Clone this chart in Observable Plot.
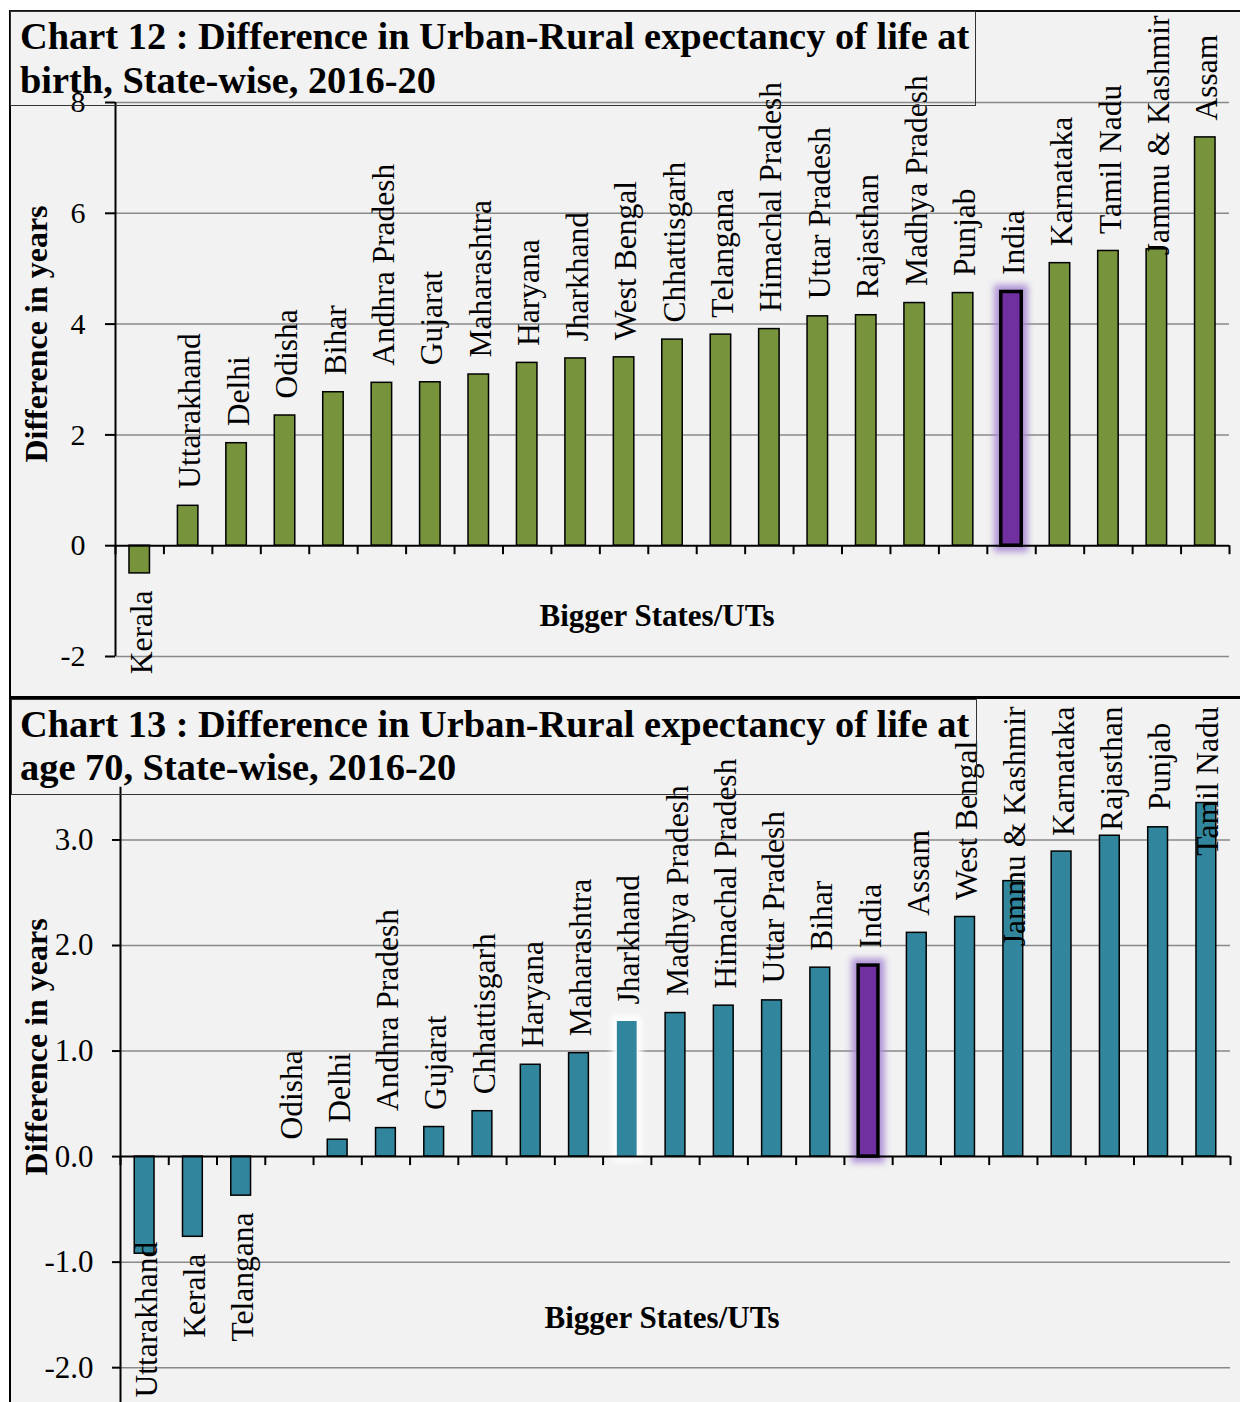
<!DOCTYPE html>
<html>
<head>
<meta charset="utf-8">
<script src="https://cdn.jsdelivr.net/npm/d3@7"></script>
<script src="https://cdn.jsdelivr.net/npm/@observablehq/plot@0.6"></script>
<style>
html,body{margin:0;padding:0;width:1240px;height:1402px;overflow:hidden;background:#fff;}
body{position:relative;font-family:"Liberation Serif","Times New Roman",serif;}
#bg{position:absolute;left:9px;top:10px;width:1231px;height:1392px;background:#f2f2f2;border-left:2px solid #000;border-top:2px solid #111;box-sizing:border-box;}
.chart{position:absolute;left:0;}
#c12{top:0;}
#c13{top:697px;}
.tbox{position:absolute;box-sizing:border-box;border:1px solid #333;font-weight:bold;font-size:38.4px;color:#000;white-space:nowrap;}
#t12{left:10px;top:11px;width:966px;height:95px;padding:3.2px 0 0 9px;line-height:43.5px;}
#t13{left:11px;top:699px;width:966px;height:96px;padding:2.9px 0 0 8px;line-height:43px;}
#divider{position:absolute;left:9px;top:696px;width:1231px;height:3px;background:#000;}
</style>
</head>
<body>
<div id="bg"></div>
<div id="c12" class="chart"></div>
<div id="c13" class="chart"></div>
<div id="t12" class="tbox">Chart 12 : Difference in Urban-Rural expectancy of life at<br>birth, State-wise, 2016-20</div>
<div id="t13" class="tbox">Chart 13 : Difference in Urban-Rural expectancy of life at<br>age 70, State-wise, 2016-20</div>
<div id="divider"></div>
<script>
const SERIF = '"Liberation Serif", "Times New Roman", serif';
const GREEN = "#77933c", TEAL = "#31859c", PURPLE = "#7030a0", GRID = "#898989";

// Chart 12: at birth
const states12 = ["Kerala","Uttarakhand","Delhi","Odisha","Bihar","Andhra Pradesh","Gujarat","Maharashtra","Haryana","Jharkhand","West Bengal","Chhattisgarh","Telangana","Himachal Pradesh","Uttar Pradesh","Rajasthan","Madhya Pradesh","Punjab","India","Karnataka","Tamil Nadu","Jammu & Kashmir","Assam"];
const values12 = [-0.50,0.72,1.85,2.35,2.77,2.94,2.95,3.09,3.30,3.38,3.40,3.72,3.81,3.91,4.14,4.16,4.38,4.56,4.58,5.10,5.32,5.35,7.37];
const ticks12 = [-2,0,2,4,6,8];

// Chart 13: at age 70
const states13 = ["Uttarakhand","Kerala","Telangana","Odisha","Delhi","Andhra Pradesh","Gujarat","Chhattisgarh","Haryana","Maharashtra","Jharkhand","Madhya Pradesh","Himachal Pradesh","Uttar Pradesh","Bihar","India","Assam","West Bengal","Jammu & Kashmir","Karnataka","Rajasthan","Punjab","Tamil Nadu"];
const values13 = [-0.92,-0.76,-0.37,0.00,0.16,0.27,0.28,0.43,0.87,0.98,1.28,1.36,1.43,1.48,1.79,1.81,2.12,2.27,2.61,2.89,3.04,3.12,3.35];
const ticks13 = [-2,-1,0,1,2,3];

const yTitleText = "Difference in years";
const xTitleText = "Bigger States/UTs";

const canvas = document.createElement("canvas");
const ctx = canvas.getContext("2d");
function textWidth(s, size) { ctx.font = `${size}px "Liberation Serif"`; return ctx.measureText(s).width; }

function makeChart(cfg) {
  const {states, values, ticks, tickFormat, domain, height, marginTop, marginBottom, marginLeft, marginRight,
         color, highlight, muted, tickSize, tickPadding, tickFont, topLimit, bottomLimit, pad, yT, xT} = cfg;
  const width = 1240;
  const data = states.map((state, i) => ({state, value: values[i]}));
  const n = data.length;
  const step = (width - marginLeft - marginRight) / n;
  const plotH = height - marginTop - marginBottom;
  const yPix = v => marginTop + (domain[1] - v) / (domain[1] - domain[0]) * plotH;
  const frameBottom = height - marginBottom;
  const fs = 31.5, gap = 17;
  const upFree = [], upClamp = [], downFree = [], downClamp = [];
  for (const d of data) {
    const w = textWidth(d.state, fs);
    const p = yPix(d.value);
    if (d.value >= 0) (p - gap - w < topLimit ? upClamp : upFree).push(d);
    else (p + gap + w > bottomLimit ? downClamp : downFree).push(d);
  }
  const lab = {x: "state", text: "state", rotate: -90, fontSize: fs, fontFamily: SERIF, fill: "#000", lineAnchor: "middle", dx: 2};
  const tickOpts = {x: "state", y1: 0, y2: 0, insetBottom: -9, stroke: "#000", strokeWidth: 2};
  const regular = data.filter(d => d.state !== highlight && d.state !== muted);
  const marks = [
    Plot.ruleY(ticks.filter(t => t !== 0), {stroke: GRID, strokeWidth: 1.5}),
    Plot.barY(regular, {x: "state", y: "value", fill: color, stroke: "#000", strokeWidth: 1.5}),
    Plot.barY(data.filter(d => d.state === highlight), {x: "state", y: "value", fill: PURPLE, stroke: "#000", strokeWidth: 3.5})
  ];
  if (muted) marks.push(Plot.barY(data.filter(d => d.state === muted), {x: "state", y: "value", fill: color}));
  marks.push(
    Plot.ruleY([0], {stroke: "#000", strokeWidth: 2}),
    Plot.ruleX(data, {...tickOpts, dx: -step / 2}),
    Plot.ruleX(data.slice(-1), {...tickOpts, dx: step / 2}),
    Plot.ruleX(data.slice(0, 1), {x: "state", dx: -step / 2, stroke: "#000", strokeWidth: 2}),
    Plot.text(upFree, {...lab, y: "value", textAnchor: "start", dy: -gap}),
    Plot.text(upClamp, {...lab, frameAnchor: "top", textAnchor: "end", dy: topLimit - marginTop}),
    Plot.text(downFree, {...lab, y: "value", textAnchor: "end", dy: gap}),
    Plot.text(downClamp, {...lab, frameAnchor: "bottom", textAnchor: "start", dy: bottomLimit - frameBottom}),
    Plot.text([yTitleText], {frameAnchor: "left", rotate: -90, lineAnchor: "bottom", textAnchor: "middle", fontWeight: "bold", fontSize: 32, fontFamily: SERIF, fill: "#000", dx: yT.dx, dy: yT.dy}),
    Plot.text([xTitleText], {frameAnchor: "bottom", lineAnchor: "bottom", textAnchor: "middle", fontWeight: "bold", fontSize: 31, fontFamily: SERIF, fill: "#000", dx: xT.dx, dy: xT.dy})
  );
  const svg = Plot.plot({
    width, height, marginTop, marginBottom, marginLeft, marginRight,
    style: {background: "transparent", fontFamily: SERIF, fontSize: tickFont + "px", color: "#000", overflow: "visible"},
    x: {type: "band", domain: states, paddingInner: pad, paddingOuter: pad / 2, round: false, axis: null},
    y: {domain, ticks, tickFormat, tickSize, tickPadding, label: null},
    marks
  });
  const id = cfg.id;
  d3.select(svg).insert("defs", ":first-child").html(`
    <filter id="${id}-glow" filterUnits="userSpaceOnUse" x="0" y="0" width="1240" height="${height}" color-interpolation-filters="sRGB">
      <feMorphology in="SourceAlpha" operator="dilate" radius="5" result="d"/>
      <feGaussianBlur in="d" stdDeviation="3" result="b"/>
      <feFlood flood-color="#a686d2" flood-opacity="0.85"/>
      <feComposite in2="b" operator="in" result="g"/>
      <feMerge><feMergeNode in="g"/><feMergeNode in="SourceGraphic"/></feMerge>
    </filter>
    <filter id="${id}-white" filterUnits="userSpaceOnUse" x="0" y="0" width="1240" height="${height}" color-interpolation-filters="sRGB">
      <feMorphology in="SourceAlpha" operator="dilate" radius="5" result="d"/>
      <feGaussianBlur in="d" stdDeviation="3" result="b"/>
      <feFlood flood-color="#ffffff" flood-opacity="1"/>
      <feComposite in2="b" operator="in" result="g"/>
      <feMerge><feMergeNode in="g"/><feMergeNode in="SourceGraphic"/></feMerge>
    </filter>`);
  const bars = svg.querySelectorAll('g[aria-label="bar"]');
  if (bars[1]) bars[1].setAttribute("filter", `url(#${id}-glow)`);
  if (muted && bars[2]) bars[2].setAttribute("filter", `url(#${id}-white)`);
  svg.querySelectorAll('[aria-label="y-axis tick"], [aria-label="y-axis tick"] path, .tick line').forEach(e => e.setAttribute("stroke-width", 2));
  return svg;
}

document.getElementById("c12").appendChild(makeChart({
  id: "c12", states: states12, values: values12, ticks: ticks12, tickFormat: d => String(d),
  domain: [-2, 8], height: 697, marginTop: 102, marginBottom: 41, marginLeft: 115, marginRight: 11,
  color: GREEN, highlight: "India", muted: null, tickSize: 10, tickPadding: 20, tickFont: 30,
  topLimit: 15, bottomLimit: 690, pad: 0.577,
  yT: {dx: -69, dy: -45.5}, xT: {dx: -15.5, dy: -31}
}));

document.getElementById("c13").appendChild(makeChart({
  id: "c13", states: states13, values: values13, ticks: ticks13, tickFormat: d => d.toFixed(1),
  domain: [-2.33, 3.5], height: 705, marginTop: 89.7, marginBottom: 0, marginLeft: 120, marginRight: 10,
  color: TEAL, highlight: "India", muted: "Jharkhand", tickSize: 8, tickPadding: 19, tickFont: 31,
  topLimit: 9, bottomLimit: 700, pad: 0.59,
  yT: {dx: -74, dy: -48}, xT: {dx: -13.5, dy: -75}
}));
</script>
</body>
</html>
